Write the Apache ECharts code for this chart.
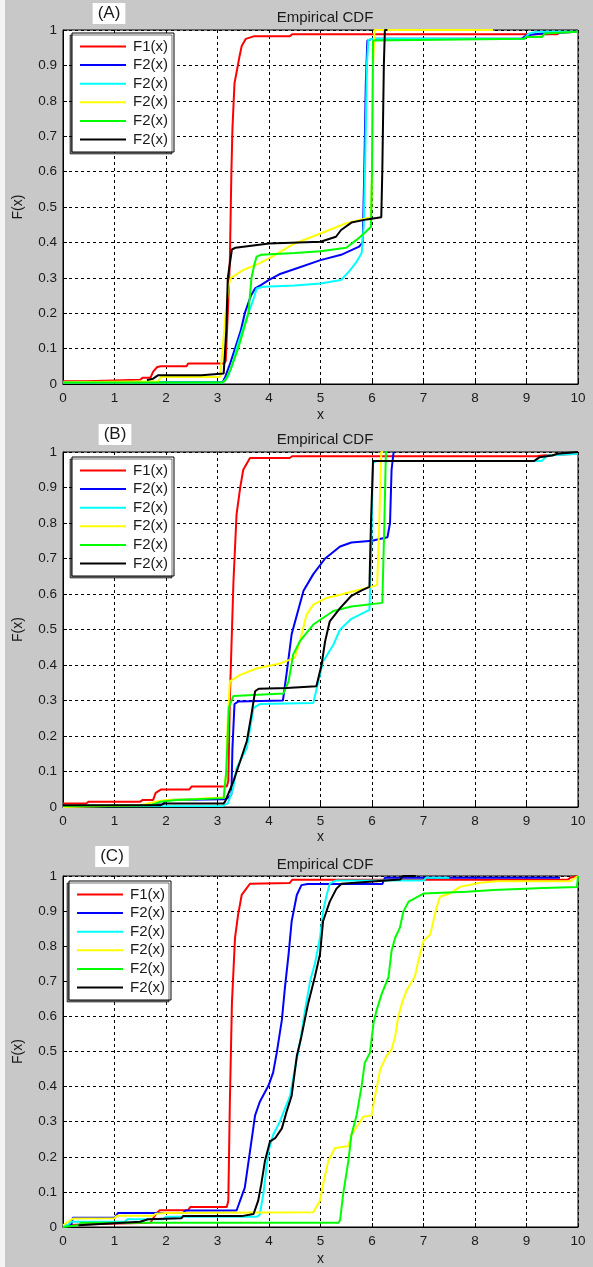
<!DOCTYPE html>
<html>
<head>
<meta charset="utf-8">
<script src="https://cdn.jsdelivr.net/npm/echarts@6/dist/echarts.min.js"></script>
<style>
html,body{margin:0;padding:0;background:#c8c8c8;}
#main{width:593px;height:1267px;}
</style>
</head>
<body>
<div id="main"></div>
<script>
// ---------- data ----------
const panelLetters = ['(A)', '(B)', '(C)'];
const chartTitle = 'Empirical CDF';
const xLabel = 'x';
const yLabel = 'F(x)';
const curveLabels = ['F1(x)', 'F2(x)', 'F2(x)', 'F2(x)', 'F2(x)', 'F2(x)'];
const curveColors = ['#ff0000', '#0000ff', '#00ffff', '#ffff00', '#00ff00', '#000000'];

// Panel A
const aRed = [[0,0.008],[0.45,0.008],[0.47,0.012],[1.5,0.012],[1.55,0.018],[1.7,0.018],[1.75,0.035],[1.83,0.048],[1.9,0.05],[2.4,0.05],[2.43,0.058],[3.13,0.058],[3.16,0.065],[3.2,0.2],[3.24,0.35],[3.27,0.6],[3.29,0.72],[3.33,0.85],[3.37,0.88],[3.42,0.92],[3.47,0.955],[3.55,0.975],[3.7,0.982],[4.4,0.982],[4.45,0.988],[9.6,0.988],[9.65,0.993],[10,0.995]];
const aBlue = [[0,0.005],[3.1,0.005],[3.15,0.02],[3.25,0.06],[3.34,0.1],[3.45,0.15],[3.53,0.2],[3.65,0.25],[3.73,0.27],[3.85,0.28],[4.0,0.294],[4.2,0.31],[4.5,0.325],[5.0,0.35],[5.4,0.365],[5.75,0.388],[5.82,0.4],[5.85,0.6],[5.88,0.85],[5.91,0.97],[6.0,0.975],[8.9,0.975],[9.0,0.985],[9.3,0.99],[10,0.995]];
const aCyan = [[0,0.004],[3.1,0.004],[3.2,0.02],[3.3,0.06],[3.37,0.1],[3.48,0.15],[3.6,0.2],[3.7,0.24],[3.76,0.27],[3.9,0.275],[4.5,0.278],[5.0,0.284],[5.4,0.294],[5.55,0.317],[5.7,0.345],[5.8,0.37],[5.84,0.45],[5.87,0.65],[5.9,0.9],[5.93,0.972],[6.0,0.975],[8.95,0.975],[9.05,0.99],[9.2,0.995],[10,0.995]];
const aYellow = [[0,0.005],[1.85,0.008],[1.9,0.02],[3.05,0.02],[3.1,0.1],[3.17,0.22],[3.22,0.28],[3.26,0.3],[3.5,0.322],[3.8,0.34],[4.0,0.355],[4.5,0.397],[5.0,0.425],[5.5,0.454],[5.9,0.468],[5.98,0.47],[6.0,0.6],[6.02,0.9],[6.05,1.0],[8.35,1.0]];
const aGreen = [[0,0.004],[3.1,0.004],[3.15,0.01],[3.25,0.04],[3.4,0.1],[3.5,0.15],[3.6,0.2],[3.66,0.3],[3.72,0.34],[3.76,0.36],[3.85,0.365],[4.5,0.37],[5.0,0.375],[5.5,0.385],[5.7,0.407],[5.85,0.426],[5.98,0.444],[6.0,0.6],[6.02,0.97],[6.05,0.975],[8.95,0.975],[9.0,0.98],[9.3,0.98],[9.35,0.99],[10,0.995]];
const aBlack = [[1.63,0.011],[1.75,0.015],[1.8,0.02],[1.85,0.025],[2.69,0.025],[2.72,0.03],[3.12,0.03],[3.17,0.15],[3.2,0.3],[3.28,0.38],[3.35,0.385],[4.0,0.397],[5.0,0.402],[5.3,0.416],[5.4,0.435],[5.6,0.456],[5.9,0.465],[6.18,0.471],[6.2,0.6],[6.23,0.9],[6.25,1.0],[6.3,1.0]];

// Panel B
const bRed = [[0,0.01],[0.45,0.01],[0.5,0.015],[1.5,0.015],[1.55,0.02],[1.75,0.02],[1.8,0.04],[1.9,0.049],[2.45,0.049],[2.5,0.058],[3.18,0.058],[3.21,0.073],[3.24,0.307],[3.27,0.448],[3.31,0.636],[3.37,0.824],[3.44,0.899],[3.5,0.95],[3.63,0.983],[4.4,0.983],[4.45,0.988],[9.2,0.988],[9.3,0.99],[10,0.995]];
const bBlue = [[1.5,0.005],[1.95,0.008],[2.0,0.02],[3.15,0.022],[3.2,0.025],[3.27,0.035],[3.29,0.166],[3.33,0.29],[3.4,0.297],[4.27,0.3],[4.34,0.374],[4.44,0.487],[4.67,0.609],[4.86,0.656],[5.09,0.7],[5.38,0.734],[5.6,0.745],[6.0,0.75],[6.3,0.76],[6.35,0.8],[6.38,0.95],[6.42,1.0]];
const bCyan = [[0,0.002],[3.1,0.003],[3.2,0.01],[3.3,0.05],[3.37,0.11],[3.57,0.166],[3.7,0.279],[3.82,0.29],[4.86,0.293],[4.96,0.354],[5.05,0.41],[5.25,0.457],[5.38,0.5],[5.6,0.53],[5.95,0.555],[5.98,0.7],[6.02,0.97],[6.1,0.975],[9.3,0.975],[9.4,0.99],[10,0.995]];
const bYellow = [[0,0.0],[1.5,0.005],[1.8,0.015],[2.0,0.02],[2.5,0.022],[2.8,0.025],[3.12,0.027],[3.17,0.1],[3.2,0.25],[3.24,0.354],[3.44,0.372],[3.76,0.39],[4.21,0.404],[4.5,0.42],[4.6,0.467],[4.73,0.542],[4.86,0.57],[5.12,0.589],[5.38,0.598],[5.7,0.61],[6.1,0.625],[6.14,0.8],[6.18,1.0],[6.22,1.0]];
const bGreen = [[0,0.003],[1.7,0.005],[1.9,0.015],[2.2,0.02],[3.12,0.025],[3.17,0.1],[3.22,0.28],[3.31,0.313],[4.28,0.32],[4.38,0.354],[4.47,0.43],[4.6,0.467],[4.86,0.514],[5.25,0.552],[5.6,0.565],[6.2,0.575],[6.24,0.8],[6.27,1.0],[6.3,1.0]];
const bBlack = [[0,0.005],[1.9,0.005],[1.95,0.01],[3.12,0.01],[3.15,0.016],[3.31,0.073],[3.44,0.129],[3.57,0.186],[3.66,0.261],[3.73,0.326],[3.8,0.333],[4.34,0.335],[4.92,0.34],[5.02,0.4],[5.09,0.467],[5.18,0.523],[5.38,0.56],[5.6,0.595],[5.8,0.61],[5.95,0.62],[5.98,0.8],[6.02,0.975],[9.15,0.975],[9.25,0.985],[9.5,0.99],[9.6,0.995],[10,1.0]];

// Panel C
const cRed = [[0,0.005],[0.5,0.008],[0.52,0.012],[1.7,0.012],[1.75,0.025],[1.82,0.04],[1.88,0.048],[2.43,0.048],[2.47,0.057],[3.18,0.057],[3.21,0.075],[3.24,0.356],[3.28,0.637],[3.34,0.824],[3.4,0.89],[3.47,0.946],[3.63,0.978],[4.4,0.98],[4.45,0.989],[9.8,0.989],[9.85,0.995],[10,1.0]];
const cBlue = [[0,0.005],[0.16,0.005],[0.19,0.026],[1.0,0.026],[1.07,0.04],[2.33,0.04],[2.38,0.047],[3.37,0.047],[3.4,0.05],[3.53,0.112],[3.63,0.215],[3.73,0.318],[3.82,0.356],[3.99,0.403],[4.08,0.44],[4.15,0.496],[4.25,0.59],[4.31,0.683],[4.38,0.777],[4.44,0.871],[4.54,0.946],[4.63,0.974],[4.75,0.977],[6.2,0.977],[6.25,0.995],[9.65,0.995]];
const cCyan = [[0,0.006],[0.1,0.006],[0.15,0.015],[1.2,0.015],[1.25,0.022],[1.95,0.022],[2.0,0.029],[3.76,0.029],[3.82,0.035],[3.89,0.094],[3.95,0.169],[3.99,0.215],[4.08,0.262],[4.21,0.3],[4.31,0.337],[4.41,0.374],[4.5,0.449],[4.6,0.524],[4.7,0.618],[4.8,0.702],[4.89,0.749],[4.99,0.824],[5.05,0.899],[5.12,0.946],[5.18,0.978],[5.3,0.987],[7.0,0.987],[7.05,0.995],[7.5,0.995]];
const cYellow = [[0,0.005],[0.15,0.02],[0.2,0.024],[1.0,0.025],[1.05,0.032],[1.75,0.032],[1.8,0.038],[2.0,0.04],[4.86,0.042],[4.99,0.075],[5.05,0.122],[5.15,0.187],[5.28,0.225],[5.54,0.23],[5.6,0.262],[5.77,0.3],[5.83,0.314],[5.99,0.318],[6.06,0.374],[6.16,0.449],[6.28,0.487],[6.38,0.506],[6.45,0.543],[6.51,0.599],[6.58,0.637],[6.67,0.674],[6.83,0.712],[6.9,0.758],[7.0,0.815],[7.13,0.833],[7.19,0.871],[7.25,0.908],[7.32,0.941],[7.51,0.95],[7.71,0.969],[8.1,0.981],[8.42,0.985],[9.84,0.985],[9.9,0.99],[10,1.0]];
const cGreen = [[0,0.0],[0.3,0.005],[0.35,0.012],[5.35,0.012],[5.38,0.019],[5.44,0.094],[5.54,0.187],[5.6,0.262],[5.7,0.318],[5.8,0.403],[5.86,0.468],[5.96,0.496],[6.03,0.581],[6.09,0.618],[6.19,0.665],[6.32,0.712],[6.38,0.787],[6.45,0.824],[6.54,0.852],[6.61,0.899],[6.71,0.927],[6.83,0.936],[7.0,0.95],[7.84,0.955],[8.36,0.96],[9.33,0.966],[9.98,0.969],[10,1.0]];
const cBlack = [[0.3,0.005],[1.5,0.015],[1.65,0.022],[2.3,0.025],[2.33,0.031],[3.47,0.031],[3.5,0.035],[3.7,0.037],[3.79,0.075],[3.85,0.122],[3.92,0.187],[4.02,0.244],[4.12,0.253],[4.25,0.281],[4.34,0.328],[4.44,0.374],[4.54,0.487],[4.63,0.543],[4.76,0.637],[4.89,0.712],[4.99,0.777],[5.05,0.871],[5.18,0.927],[5.31,0.964],[5.41,0.978],[6.55,0.99],[6.6,1.0],[6.85,1.0]];

const panelCurves = [
  [aRed, aBlue, aCyan, aYellow, aGreen, aBlack],
  [bRed, bBlue, bCyan, bYellow, bGreen, bBlack],
  [cRed, cBlue, cCyan, cYellow, cGreen, cBlack]
];

// ---------- layout ----------
const FONT = '"Liberation Sans", Arial, Helvetica, sans-serif';
const layout = [
  {top: 30, height: 354, legendTop: 33, legendLeft: 72, titleTop: 5, tagX: 104, tagTop: 3, xNameGap: 24},
  {top: 452, height: 355, legendTop: 457, legendLeft: 72, titleTop: 427, tagX: 110, tagTop: 424, xNameGap: 23},
  {top: 876, height: 356, legendTop: 881, legendLeft: 69, titleTop: 852, tagX: 107, tagTop: 846, xNameGap: 25}
];

const grids = [], xAxes = [], yAxes = [], series = [], legends = [], titles = [];
const nameToLabel = {};

layout.forEach((L, p) => {
  grids.push({left: 63, right: 15, top: L.top, height: L.height, show: true,
    backgroundColor: '#ffffff', borderColor: '#000000', borderWidth: 1, containLabel: false});
  const axisCommon = {
    gridIndex: p,
    axisLine: {show: true, onZero: false, lineStyle: {color: '#000', width: 1}},
    axisTick: {show: true, inside: true, length: 4, lineStyle: {color: '#000'}},
    splitLine: {show: true, lineStyle: {color: '#000', type: [3, 3], width: 1}},
    axisLabel: {color: '#1a1a1a', fontSize: 13.5, fontFamily: FONT},
    nameTextStyle: {color: '#1a1a1a', fontSize: 14, fontFamily: FONT}
  };
  xAxes.push(Object.assign({}, axisCommon, {
    type: 'value', min: 0, max: 10, interval: 1,
    name: xLabel, nameLocation: 'middle', nameGap: L.xNameGap,
    axisLabel: Object.assign({}, axisCommon.axisLabel, {margin: 7})
  }));
  yAxes.push(Object.assign({}, axisCommon, {
    type: 'value', min: 0, max: 1, interval: 0.1,
    name: yLabel, nameLocation: 'middle', nameGap: 38, nameRotate: 90,
    axisLabel: Object.assign({}, axisCommon.axisLabel, {margin: 6})
  }));
  const names = [];
  panelCurves[p].forEach((data, i) => {
    const nm = 'P' + p + '_S' + i;
    nameToLabel[nm] = curveLabels[i];
    names.push(nm);
    series.push({
      type: 'line', name: nm, xAxisIndex: p, yAxisIndex: p,
      data: data, symbol: 'none', smooth: false,
      lineStyle: {color: curveColors[i], width: 2},
      itemStyle: {color: curveColors[i]},
      animation: false, silent: true, z: 2 + i
    });
  });
  legends.push({
    data: names, orient: 'vertical', left: L.legendLeft, top: L.legendTop,
    itemWidth: 46, itemHeight: 13, itemGap: 3.6,
    padding: [6, 6, 5, 7],
    backgroundColor: '#ffffff', borderColor: '#000000', borderWidth: 1,
    shadowColor: 'rgba(0,0,0,0.55)', shadowBlur: 0, shadowOffsetX: -2, shadowOffsetY: 2,
    selectedMode: false,
    itemStyle: {color: 'rgba(0,0,0,0)', borderColor: 'rgba(0,0,0,0)', borderWidth: 0, opacity: 0},
    lineStyle: {width: 2},
    formatter: n => nameToLabel[n],
    textStyle: {color: '#1a1a1a', fontSize: 15, fontFamily: FONT, padding: [0, 0, 0, 2]}
  });
  titles.push({
    text: chartTitle, left: 320, top: L.titleTop, textAlign: 'center',
    textStyle: {color: '#1a1a1a', fontSize: 15, fontWeight: 'normal', fontFamily: FONT}
  });
  titles.push({
    text: panelLetters[p], left: L.tagX, top: L.tagTop, textAlign: 'center',
    backgroundColor: '#ffffff', padding: [2, 5, 2, 5],
    textStyle: {color: '#1a1a1a', fontSize: 17, fontWeight: 'normal', fontFamily: FONT}
  });
});

const chart = echarts.init(document.getElementById('main'), null, {renderer: 'canvas'});
chart.setOption({
  backgroundColor: '#c8c8c8',
  animation: false,
  title: titles,
  grid: grids,
  xAxis: xAxes,
  yAxis: yAxes,
  legend: legends,
  series: series,
  graphic: [{type: 'rect', left: 0, top: 0, shape: {width: 5, height: 1267}, style: {fill: '#f4f4f4'}, silent: true}]
});
</script>
</body>
</html>
